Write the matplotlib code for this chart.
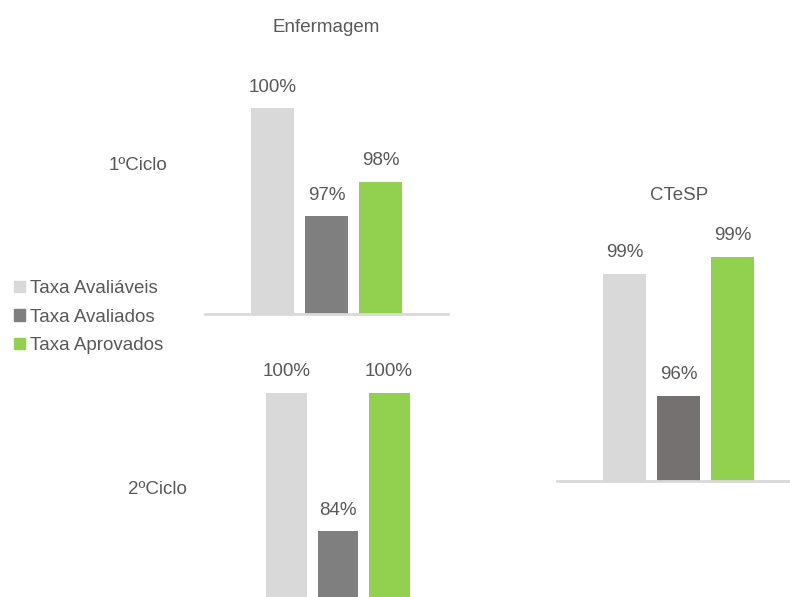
import matplotlib.pyplot as plt
from matplotlib.patches import Patch

plt.rcParams['font.family'] = ['Liberation Sans', 'DejaVu Sans']

series = ["Taxa Avaliáveis", "Taxa Avaliados", "Taxa Aprovados"]
ciclo1 = [100.0, 97.0, 97.95]
ciclo2 = [100.0, 83.85, 100.0]
ctesp = [98.88, 95.83, 99.3]
cores = ["#D9D9D9", "#7F7F7F", "#92D050"]
cores_ctesp = ["#D9D9D9", "#767171", "#92D050"]

W, H = 790, 597
fig = plt.figure(figsize=(W / 100, H / 100), dpi=100)
TXT = "#595959"


def eixo(x0, x1, ytop, ybot):
    # caixa em pixeis (origem em cima à esquerda)
    return fig.add_axes([x0 / W, 1 - ybot / H, (x1 - x0) / W, (ybot - ytop) / H])


def painel(ax, valores, cores_barras, ylim):
    xs = range(len(valores))
    bars = ax.bar(xs, valores, width=0.8, color=cores_barras)
    ax.set_xlim(-1.25, 3.25)
    ax.set_ylim(*ylim)
    for b, v in zip(bars, valores):
        ax.annotate(f"{v:.0f}%", (b.get_x() + b.get_width() / 2, v),
                    xytext=(0, 21), textcoords="offset pixels",
                    ha="center", va="center", fontsize=13.5, color=TXT,
                    annotation_clip=False)
    for s in ["top", "left", "right"]:
        ax.spines[s].set_visible(False)
    ax.spines["bottom"].set_color("#D9D9D9")
    ax.spines["bottom"].set_linewidth(2)
    ax.set_xticks([])
    ax.set_yticks([])
    ax.patch.set_alpha(0)


ax1 = eixo(205, 448, 108, 313.5)
painel(ax1, ciclo1, cores, (94.3, 100))

ax2 = eixo(223, 453, 393, 605)
painel(ax2, ciclo2, cores, (75.2, 100))

ax3 = eixo(557, 800, 257, 481)
painel(ax3, ctesp, cores_ctesp, (93.7, 99.3))

fig.text(326 / W, 1 - 27 / H, "Enfermagem", ha="center", va="center", fontsize=13.5, color=TXT)
fig.text(679 / W, 1 - 195 / H, "CTeSP", ha="center", va="center", fontsize=13.5, color=TXT)
fig.text(138 / W, 1 - 165 / H, "1ºCiclo", ha="center", va="center", fontsize=13.5, color=TXT)
fig.text(157 / W, 1 - 490 / H, "2ºCiclo", ha="center", va="center", fontsize=13.5, color=TXT)

handles = [Patch(color=c) for c in cores]
fig.legend(handles, series, loc="upper left", bbox_to_anchor=(5 / W, 1 - 271 / H),
           frameon=False, fontsize=13.5, labelcolor=TXT, handlelength=0.55,
           handleheight=0.55, handletextpad=0.3, labelspacing=0.6, borderpad=0)

fig.savefig("out.png", dpi=100)
